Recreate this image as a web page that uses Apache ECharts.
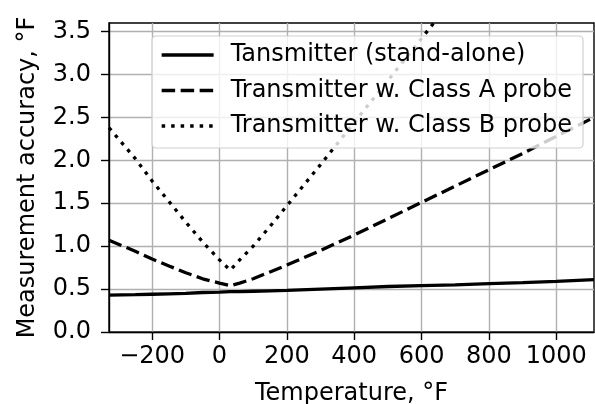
<!DOCTYPE html>
<html>
<head>
<meta charset="utf-8">
<script src="https://cdn.jsdelivr.net/npm/echarts@6/dist/echarts.min.js"></script>
<style>
  html, body { margin: 0; padding: 0; background: #fff; }
  #chart { width: 595px; height: 404px; }
</style>
</head>
<body>
<div id="chart"></div>
<script>
// temperatures (°F) and accuracies (°F)
var temps = [-328, -250, -200, -150, -100, -50, 0, 32, 60, 100, 150, 200, 300, 400, 500, 600, 700, 800, 900, 1000, 1112];
var standAlone = [0.43, 0.435, 0.44, 0.445, 0.45, 0.46, 0.465, 0.47, 0.47, 0.475, 0.48, 0.485, 0.50, 0.515, 0.53, 0.54, 0.55, 0.563, 0.575, 0.59, 0.61];
var classA = [1.07, 0.94, 0.85, 0.77, 0.69, 0.62, 0.57, 0.54, 0.57, 0.62, 0.70, 0.78, 0.95, 1.13, 1.32, 1.51, 1.70, 1.89, 2.08, 2.28, 2.50];
var classB = [2.38, 2.02, 1.76, 1.52, 1.28, 1.05, 0.84, 0.72, 0.84, 1.00, 1.23, 1.47, 1.95, 2.44, 2.93, 3.42, 3.92, 4.42, 4.92, 5.42, 5.98];
var names = ['Tansmitter (stand-alone)', 'Transmitter w. Class A probe', 'Transmitter w. Class B probe'];
var xTicks = [-200, 0, 200, 400, 600, 800, 1000];
var yTicks = [0, 0.5, 1, 1.5, 2, 2.5, 3, 3.5];

function pairs(ys) {
    return temps.map(function (t, i) { return [t, ys[i]]; });
}

var font = 'DejaVu Sans';
var fs = 24;
var lw = 3.3;
var myChart = echarts.init(document.getElementById('chart'));
var option = {
    animation: false,
    textStyle: { fontFamily: font },
    grid: {
        left: 109, right: 1, top: 23, bottom: 72,
        outerBoundsMode: 'none', containLabel: false,
        show: true, borderColor: '#000', borderWidth: 1.4
    },
    legend: {
        orient: 'vertical',
        left: 152, top: 36,
        padding: [7, 11, 10, 8],
        itemWidth: 52, itemHeight: 14, itemGap: 11.5,
        backgroundColor: 'rgba(255,255,255,0.8)',
        borderColor: '#d0d0d0', borderWidth: 1.2, borderRadius: 4,
        itemStyle: { opacity: 0 },
        lineStyle: { width: lw },
        textStyle: { fontFamily: font, fontSize: fs, color: '#000', padding: [0, 0, 0, 12], lineHeight: 24 },
        data: names
    },
    xAxis: {
        type: 'value',
        min: -328, max: 1112,
        name: 'Temperature, °F',
        nameLocation: 'middle', nameGap: 50,
        nameTextStyle: { fontFamily: font, fontSize: fs, color: '#000' },
        axisLine: { onZero: false, lineStyle: { color: '#000', width: 1.4 } },
        axisTick: { show: true, length: 8, customValues: xTicks, lineStyle: { color: '#000', width: 1.4 } },
        axisLabel: {
            customValues: xTicks, margin: 13, fontSize: fs, color: '#000', fontFamily: font,
            formatter: function (v) { return v < 0 ? '\u2212' + (-v) : String(v); }
        },
        splitLine: { show: true, lineStyle: { color: '#b0b0b0', width: 1.4 } }
    },
    yAxis: {
        type: 'value',
        min: 0, max: 3.6,
        name: 'Measurement accuracy, °F',
        nameLocation: 'middle', nameGap: 69,
        nameTextStyle: { fontFamily: font, fontSize: fs, color: '#000' },
        axisLine: { onZero: false, lineStyle: { color: '#000', width: 1.4 } },
        axisTick: { show: true, length: 8, customValues: yTicks, lineStyle: { color: '#000', width: 1.4 } },
        axisLabel: {
            customValues: yTicks, margin: 18, fontSize: fs, color: '#000', fontFamily: font,
            formatter: function (v) { return v.toFixed(1); }
        },
        splitLine: { show: true, lineStyle: { color: '#b0b0b0', width: 1.4 } }
    },
    series: [
        {
            name: names[0], type: 'line', symbol: 'none', z: 3,
            lineStyle: { color: '#000', width: lw, type: 'solid' },
            itemStyle: { color: '#000' },
            data: pairs(standAlone)
        },
        {
            name: names[1], type: 'line', symbol: 'none', z: 3,
            lineStyle: { color: '#000', width: lw, type: [13.5, 5.5] },
            itemStyle: { color: '#000' },
            data: pairs(classA)
        },
        {
            name: names[2], type: 'line', symbol: 'none', z: 3,
            lineStyle: { color: '#000', width: lw, type: [3.5, 6] },
            itemStyle: { color: '#000' },
            data: pairs(classB)
        }
    ]
};
myChart.setOption(option);
</script>
</body>
</html>
